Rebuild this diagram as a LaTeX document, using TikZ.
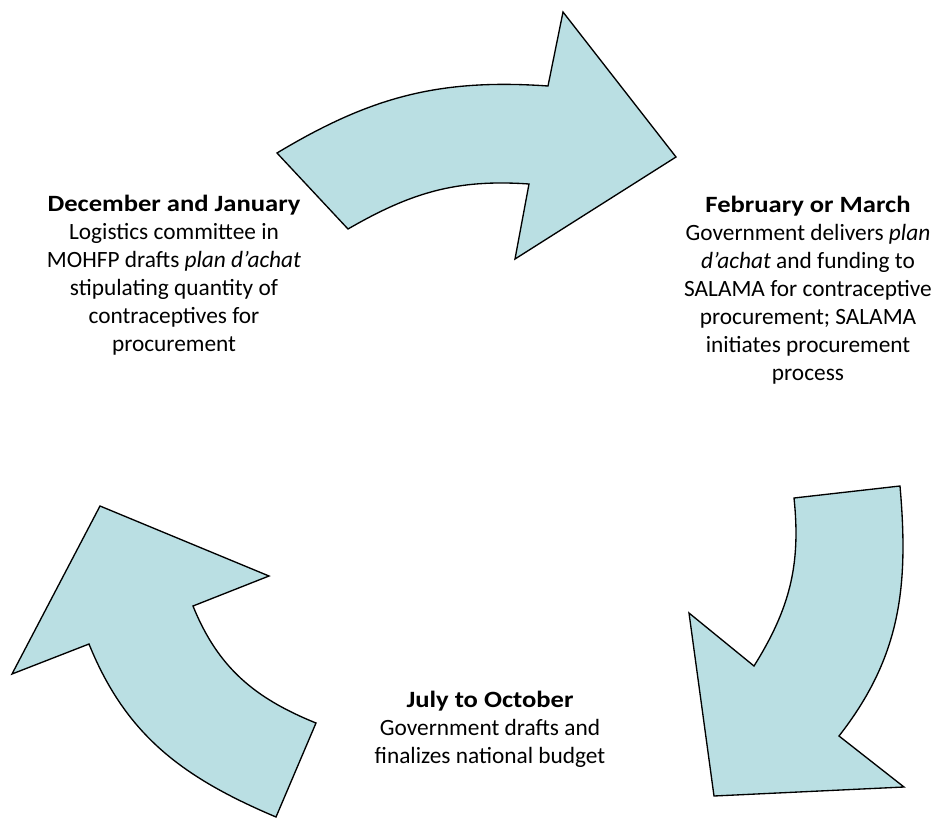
\documentclass[tikz,border=0pt]{standalone}
\usepackage{fontspec}
\setmainfont{Carlito}
\newfontfamily\headfont{Carlito}[FakeStretch=1.14]
\usepackage{xcolor}
\definecolor{arrowfill}{RGB}{186,223,227}
\newcommand{\phasehead}[1]{{\headfont\bfseries #1}}

\begin{document}
\begin{tikzpicture}[x=0.75pt, y=-0.75pt,
    bigarrow/.style={draw=black, fill=arrowfill, line width=1pt, line join=miter},
    phase/.style={align=center, font=\fontsize{17.5}{21}\selectfont, inner sep=0pt}]
  \useasboundingbox (0,0) rectangle (940,818);
  % the three curved arrows of the yearly cycle
  \draw[bigarrow] (277,153) to[out=31, in=176] (548,86) -- (563,12) -- (676,157)
    -- (515,259) -- (529,184) to[out=176, in=30] (348,229) -- cycle;
  \draw[bigarrow] (794,498) -- (900,486) to[out=-85, in=52] (839,736) -- (904,787)
    -- (714,796) -- (689,613) -- (754,666) to[out=58, in=-84] cycle;
  \draw[bigarrow] (100,506) -- (269,576) -- (193,606) to[out=-68, in=158] (316,723)
    -- (276,817) to[out=157, in=-68] (89,644) -- (12,674) -- cycle;
  % what happens in each phase
  \node[phase] (decjan) at (174,275) {\phasehead{December and January}\\
    Logistics committee in\\ MOHFP drafts \textit{plan d’achat}\\
    stipulating quantity of\\ contraceptives for\\ procurement};
  \node[phase] (febmar) at (808,290) {\phasehead{February or March}\\
    Government delivers \textit{plan}\\ \textit{d’achat} and funding to\\
    SALAMA for contraceptive\\ procurement; SALAMA\\ initiates procurement\\ process};
  \node[phase] (julyoct) at (490,729) {\phasehead{July to October}\\
    Government drafts and\\ finalizes national budget};
\end{tikzpicture}
\end{document}
